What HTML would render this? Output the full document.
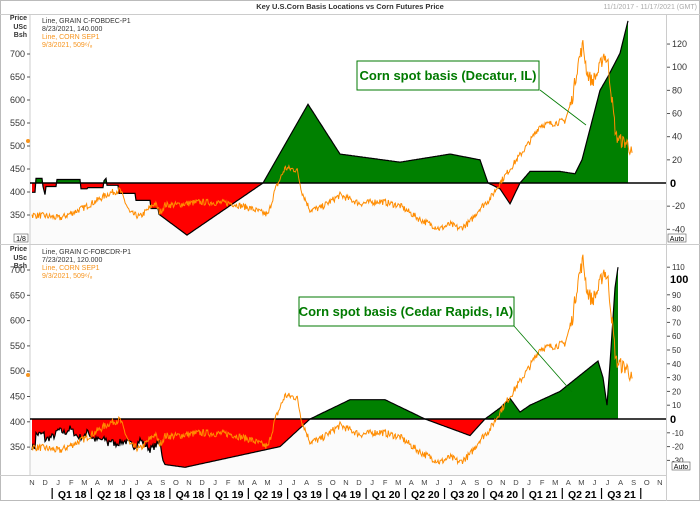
<!DOCTYPE html>
<html><head><meta charset="utf-8"><style>
body{margin:0;background:#fff;width:700px;height:501px;overflow:hidden;font-family:"Liberation Sans",sans-serif}
</style></head><body>
<svg id="s" width="700" height="501" xmlns="http://www.w3.org/2000/svg" font-family="Liberation Sans, sans-serif">
<rect x="0" y="0" width="700" height="501" fill="#fff"/>
<rect x="0.5" y="0.5" width="699" height="500" fill="none" stroke="#bbb"/>
<rect x="30" y="14" width="636" height="230" fill="#fff"/>
<rect x="30" y="245" width="636" height="230" fill="#fff"/>
<rect x="30" y="200" width="636" height="44" fill="#fbfbfb"/>
<rect x="30" y="430" width="636" height="45" fill="#fbfbfb"/>
<line x1="0" y1="244.5" x2="700" y2="244.5" stroke="#ccc"/>
<line x1="30" y1="14" x2="30" y2="475" stroke="#ccc"/>
<line x1="666.5" y1="14" x2="666.5" y2="501" stroke="#ccc"/>
<line x1="0" y1="475.5" x2="666" y2="475.5" stroke="#ccc"/>
<line x1="0" y1="14.5" x2="700" y2="14.5" stroke="#ccc"/>
<text x="350" y="9" font-size="7.5" font-weight="bold" fill="#333" text-anchor="middle">Key U.S.Corn Basis Locations vs Corn Futures Price</text>
<text x="697" y="9" font-size="7" fill="#aaa" text-anchor="end">11/1/2017 - 11/17/2021 (GMT)</text>
<g font-size="7" fill="#333"><text x="42" y="23">Line, GRAIN C-FOBDEC-P1</text><text x="42" y="31">8/23/2021, 140.000</text></g>
<g font-size="7" fill="#f7941d"><text x="42" y="39">Line, CORN SEP1</text><text x="42" y="47">9/3/2021, 509⁶/₈</text></g>
<g font-size="7" fill="#333"><text x="42" y="254">Line, GRAIN C-FOBCDR-P1</text><text x="42" y="262">7/23/2021, 120.000</text></g>
<g font-size="7" fill="#f7941d"><text x="42" y="270">Line, CORN SEP1</text><text x="42" y="278">9/3/2021, 509⁶/₈</text></g>
<g font-size="7" font-weight="bold" fill="#333" text-anchor="end"><text x="27" y="20">Price</text><text x="27" y="29">USc</text><text x="27" y="37">Bsh</text>
<text x="27" y="251">Price</text><text x="27" y="260">USc</text><text x="27" y="268">Bsh</text></g>
<g id="g"></g>
<rect x="357" y="61" width="182" height="29" fill="#fff" stroke="#007a00"/>
<text x="448" y="80" font-size="13" font-weight="bold" fill="#007a00" text-anchor="middle">Corn spot basis (Decatur, IL)</text>
<line x1="540" y1="90" x2="586" y2="125" stroke="#007a00" stroke-width="0.8"/>
<rect x="299" y="297" width="215" height="29" fill="#fff" stroke="#007a00"/>
<text x="406" y="316" font-size="13" font-weight="bold" fill="#007a00" text-anchor="middle">Corn spot basis (Cedar Rapids, IA)</text>
<line x1="514" y1="326" x2="572" y2="392" stroke="#007a00" stroke-width="0.8"/>
<rect x="14" y="234" width="14" height="8" fill="#fff" stroke="#555" stroke-width="0.6"/><text x="21" y="241" font-size="7" text-anchor="middle">1/8</text>
<rect x="668" y="234" width="18" height="8" fill="#fff" stroke="#555" stroke-width="0.6"/><text x="677" y="241" font-size="7" text-anchor="middle">Auto</text>
<rect x="672" y="462" width="18" height="8" fill="#fff" stroke="#555" stroke-width="0.6"/><text x="681" y="469" font-size="7" text-anchor="middle">Auto</text>
</svg>
<script>
var g=document.getElementById('g'),h='';
var seed=7;function rnd(){seed=(seed*16807)%2147483647;return seed/2147483647;}
function X(m){return 32+13.08*m;}
function interp(k,x){for(var i=0;i<k.length-1;i++){if(x>=k[i][0]&&x<=k[i+1][0]){var t=(x-k[i][0])/(k[i+1][0]-k[i][0]||1);return k[i][1]+t*(k[i+1][1]-k[i][1]);}}return k[k.length-1][1];}
function ty1(p){return 54+(700-p)*0.46;}function ty2(p){return 270+(700-p)*0.506;}
function ry1(v){return 183-v*1.158;}function ry2(v){return 419-v*1.38;}
[[ty1,[350,400,450,500,550,600,650,700]],[ty2,[350,400,450,500,550,600,650,700]]].forEach(function(a){a[1].forEach(function(p){var y=a[0](p);h+='<line x1="27" x2="30" y1="'+y+'" y2="'+y+'" stroke="#555"/><text x="25" y="'+(y+3)+'" font-size="9" fill="#333" text-anchor="end">'+p+'</text>';});});
[-40,-20,20,40,60,80,100,120].forEach(function(v){var y=ry1(v);h+='<line x1="667" x2="670" y1="'+y+'" y2="'+y+'" stroke="#555"/><text x="672" y="'+(y+3)+'" font-size="9" fill="#333">'+v+'</text>';});
h+='<text x="670" y="187" font-size="11" font-weight="bold">0</text>';
[-30,-20,-10,10,20,30,40,50,60,70,80,90,110].forEach(function(v){var y=ry2(v);h+='<line x1="667" x2="670" y1="'+y+'" y2="'+y+'" stroke="#555"/><text x="672" y="'+(y+3)+'" font-size="8" fill="#333">'+v+'</text>';});
h+='<text x="670" y="423" font-size="11" font-weight="bold">0</text><text x="670" y="283" font-size="11" font-weight="bold">100</text>';
h+='<circle cx="28" cy="141" r="2" fill="#f7941d"/><circle cx="28" cy="375" r="2" fill="#f7941d"/>';
var ml='NDJFMAMJJASO';for(var m=0;m<=48;m++){var x=X(m);h+='<text x="'+x+'" y="485" font-size="7.5" fill="#444" text-anchor="middle">'+ml[m%12]+'</text>';}
var q=['Q1 18','Q2 18','Q3 18','Q4 18','Q1 19','Q2 19','Q3 19','Q4 19','Q1 20','Q2 20','Q3 20','Q4 20','Q1 21','Q2 21','Q3 21'];
for(var i=0;i<15;i++){var x0=X(2+3*i);h+='<line x1="'+(x0-6)+'" x2="'+(x0-6)+'" y1="488" y2="499" stroke="#000" stroke-width="1.2"/><text x="'+(x0+14)+'" y="498" font-size="10.5" font-weight="bold" fill="#000" text-anchor="middle">'+q[i]+'</text>';}
h+='<line x1="'+(X(47)-6)+'" x2="'+(X(47)-6)+'" y1="488" y2="499" stroke="#000" stroke-width="1.2"/>';
function basis(k,ry,zero,jit,clipid){var pts=[];for(var x=k[0][0];x<=k[k.length-1][0];x+=1){var v=interp(k,x);if(jit&&x<jit[0])v+=(rnd()-0.5)*jit[1];pts.push([x,ry(v)]);}
var d='M'+pts[0][0]+','+zero;pts.forEach(function(p){d+='L'+p[0]+','+p[1].toFixed(1);});d+='L'+pts[pts.length-1][0]+','+zero+'Z';
var l='M'+pts.map(function(p){return p[0]+','+p[1].toFixed(1);}).join('L');
h+='<clipPath id="'+clipid+'a"><rect x="0" y="0" width="700" height="'+zero+'"/></clipPath><clipPath id="'+clipid+'b"><rect x="0" y="'+zero+'" width="700" height="300"/></clipPath>';
h+='<path d="'+d+'" fill="#008000" clip-path="url(#'+clipid+'a)"/><path d="'+d+'" fill="#ff0000" clip-path="url(#'+clipid+'b)"/>';
h+='<path d="'+l+'" fill="none" stroke="#000" stroke-width="1.2"/>';
h+='<line x1="30" x2="666" y1="'+zero+'" y2="'+zero+'" stroke="#000" stroke-width="1.5"/>';}
basis([[32,-8],[35,-8],[36,4],[42,4],[43,-3],[45,-10],[46,-3],[56,-3],[57,3],[80,3],[81,-5],[87,-5],[88,-4],[103,-4],[104,2],[106,4],[107,-2],[118,-2],[119,-9],[135,-9],[136,-15],[150,-15],[151,-22],[158,-22],[159,-27],[187,-45],[263,0],[308,68],[340,25],[400,18],[450,25],[480,20],[488,0],[500,-5],[510,-18],[520,0],[530,10],[560,10],[575,8],[582,20],[600,80],[608,92],[620,112],[628,140],[628,0]],ry1,183,null,'c1');
basis([[32,-20],[35,-20],[36,-11],[44,-11],[45,-15],[55,-12],[58,-8],[65,-10],[70,-7],[78,-13],[86,-13],[87,-6],[90,-12],[95,-15],[107,-15],[108,-20],[109,-15],[115,-18],[125,-16],[135,-20],[140,-15],[150,-22],[158,-18],[160,-15],[163,-30],[165,-33],[185,-35],[280,-20],[310,0],[350,14],[385,14],[425,0],[470,-12],[485,0],[500,8],[510,15],[520,5],[530,10],[560,20],[598,42],[603,30],[607,10],[610,40],[615,95],[618,110],[618,0]],ry2,419,[163,5],'c2');
var pk=[[32,350],[45,348],[60,343],[85,367],[110,398],[120,404],[130,354],[140,346],[155,376],[160,355],[165,372],[175,372],[200,378],[230,376],[250,365],[268,350],[275,404],[285,452],[297,448],[302,400],[310,361],[320,365],[340,393],[360,375],[380,380],[400,370],[420,340],[440,320],[450,330],[460,320],[470,335],[480,365],[490,385],[500,420],[510,450],[520,480],[530,510],[540,545],[555,550],[565,555],[572,600],[578,680],[583,720],[587,660],[592,640],[598,660],[604,700],[608,680],[612,600],[616,520],[622,510],[628,505],[633,475]];
var pts=[];for(var x=32;x<=633;x+=0.7){pts.push([x,interp(pk,x)+(rnd()-0.5)*(x>570?30:14)]);}
function pl(ty){return 'M'+pts.map(function(p){return p[0].toFixed(1)+','+ty(p[1]).toFixed(1);}).join('L');}
h+='<path d="'+pl(ty1)+'" fill="none" stroke="#ff8c00" stroke-width="1"/>';
h+='<path d="'+pl(ty2)+'" fill="none" stroke="#ff8c00" stroke-width="1"/>';
g.innerHTML=h;
</script>
</body></html>
